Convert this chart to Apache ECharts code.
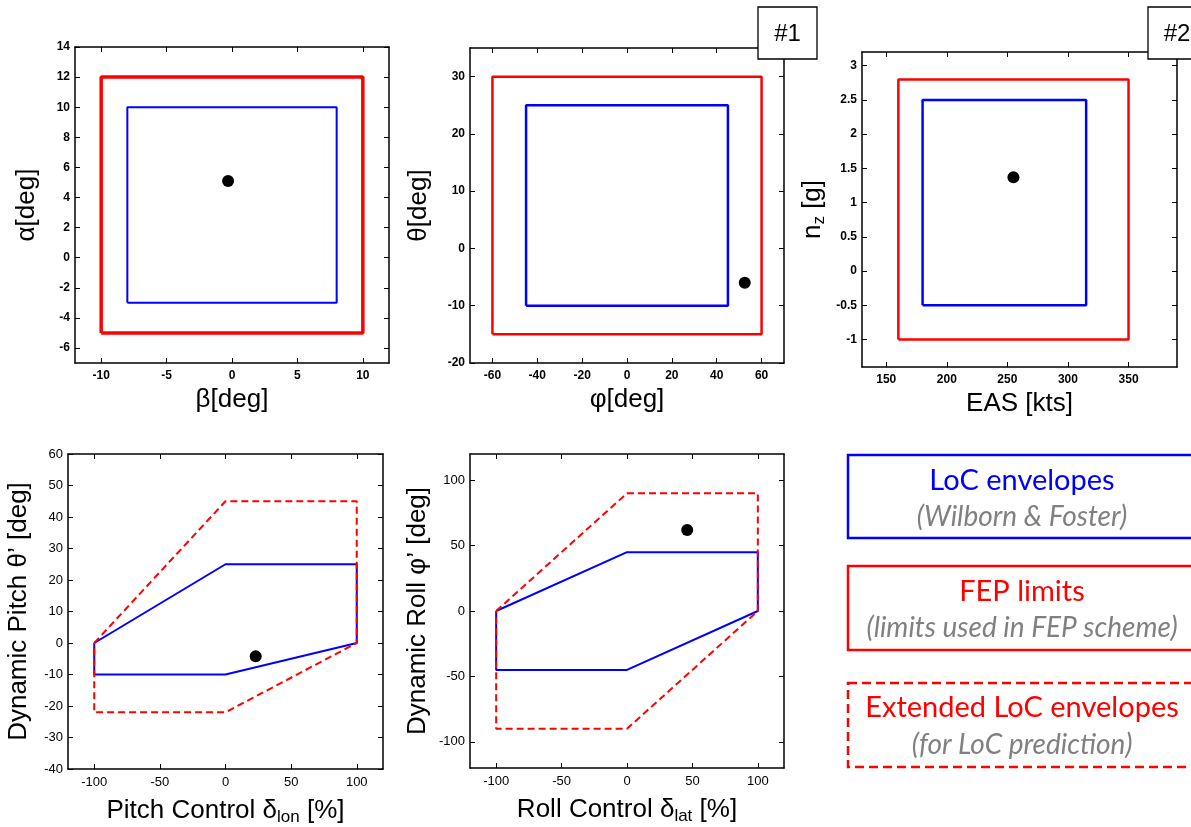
<!DOCTYPE html>
<html><head><meta charset="utf-8">
<script src="https://cdn.jsdelivr.net/npm/echarts@6/dist/echarts.min.js"></script>
<style>html,body{margin:0;padding:0;background:#fff}#c{width:1191px;height:827px}</style>
</head><body><div id="c"></div><script>
// ---- Plot 1: beta / alpha ----
const p1FepBeta  = [-10, 10, 10, -10, -10];
const p1FepAlpha = [-5, -5, 12, 12, -5];
const p1LocBeta  = [-8, 8, 8, -8, -8];
const p1LocAlpha = [-3, -3, 10, 10, -3];
const p1Point    = [-0.3, 5.1];
const p1XTicks = [-10, -5, 0, 5, 10];
const p1YTicks = [-6, -4, -2, 0, 2, 4, 6, 8, 10, 12, 14];
// ---- Plot 2: phi / theta ----
const p2FepPhi   = [-60, 60, 60, -60, -60];
const p2FepTheta = [-15, -15, 30, 30, -15];
const p2LocPhi   = [-45, 45, 45, -45, -45];
const p2LocTheta = [-10, -10, 25, 25, -10];
const p2Point    = [52.5, -6];
const p2XTicks = [-60, -40, -20, 0, 20, 40, 60];
const p2YTicks = [-20, -10, 0, 10, 20, 30];
// ---- Plot 3: EAS / nz ----
const p3FepEas = [160, 350, 350, 160, 160];
const p3FepNz  = [-1, -1, 2.8, 2.8, -1];
const p3LocEas = [180, 315, 315, 180, 180];
const p3LocNz  = [-0.5, -0.5, 2.5, 2.5, -0.5];
const p3Point  = [255, 1.37];
const p3XTicks = [150, 200, 250, 300, 350];
const p3YTicks = [-1, -0.5, 0, 0.5, 1, 1.5, 2, 2.5, 3];
// ---- Plot 4: pitch control / dynamic pitch ----
const p4LocX = [-100, 0, 100, 100, 0, -100, -100];
const p4LocY = [0, 25, 25, 0, -10, -10, 0];
const p4ExtX = [-100, 0, 100, 100, 0, -100, -100];
const p4ExtY = [0, 45, 45, 0, -22, -22, 0];
const p4Point = [23, -4.2];
const p4XTicks = [-100, -50, 0, 50, 100];
const p4YTicks = [-40, -30, -20, -10, 0, 10, 20, 30, 40, 50, 60];
// ---- Plot 5: roll control / dynamic roll ----
const p5LocX = [-100, 0, 100, 100, 0, -100, -100];
const p5LocY = [0, 45, 45, 0, -45, -45, 0];
const p5ExtX = [-100, 0, 100, 100, 0, -100, -100];
const p5ExtY = [0, 90, 90, 0, -90, -90, 0];
const p5Point = [46, 62];
const p5XTicks = [-100, -50, 0, 50, 100];
const p5YTicks = [-100, -50, 0, 50, 100];

const BLUE = '#0000ff', RED = '#ff0000';
const zip = (a, b) => a.map((v, i) => [v, b[i]]);

const grids = [
  {left: 75,  top: 47,  width: 314, height: 316},
  {left: 470, top: 48,  width: 314, height: 315},
  {left: 862, top: 52,  width: 315, height: 315},
  {left: 68,  top: 454, width: 315, height: 315},
  {left: 470, top: 454, width: 314, height: 314}
];
const axisCfg = [
  {x: [-12, 12, p1XTicks], y: [-7, 14, p1YTicks], bold: true, xn: 'β[deg]', yn: 'α[deg]', xg: 24, yg: 35},
  {x: [-70, 70, p2XTicks], y: [-20, 35, p2YTicks], bold: true, xn: 'φ[deg]', yn: 'θ[deg]', xg: 24, yg: 38},
  {x: [130, 390, p3XTicks], y: [-1.4, 3.2, p3YTicks], bold: true, xn: 'EAS [kts]', yn: 'n{s|z} [g]', xg: 24, yg: 34},
  {x: [-120, 120, p4XTicks], y: [-40, 60, p4YTicks], bold: false, xn: 'Pitch Control δ{s|lon} [%]', yn: 'Dynamic Pitch θ’ [deg]', xg: 26, yg: 36},
  {x: [-120, 120, p5XTicks], y: [-120, 120, p5YTicks], bold: false, xn: 'Roll Control δ{s|lat} [%]', yn: 'Dynamic Roll φ’ [deg]', xg: 26, yg: 39}
];
const FONT = 'Arial, "Liberation Sans", sans-serif';
const nameStyle = {fontFamily: FONT, fontSize: 26, color: '#000',
  rich: {s: {fontFamily: FONT, fontSize: 17, color: '#000', padding: [14, 0, 0, 0]}}};

const xAxes = [], yAxes = [];
axisCfg.forEach((c, i) => {
  const lbl = {fontFamily: FONT, fontSize: c.bold ? 12 : 13, fontWeight: c.bold ? 'bold' : 'normal', color: '#000'};
  const line = {show: true, onZero: false, lineStyle: {color: '#000', width: 1.5}};
  const tick = (vals) => ({show: true, inside: true, length: 5, customValues: vals, lineStyle: {color: '#000', width: 1}});
  xAxes.push({type: 'value', gridIndex: i, position: 'bottom', min: c.x[0], max: c.x[1],
    axisLine: line, axisTick: tick(c.x[2]), splitLine: {show: false},
    axisLabel: Object.assign({customValues: c.x[2], margin: 7}, lbl),
    name: c.xn, nameLocation: 'middle', nameGap: c.xg, nameTextStyle: nameStyle});
  xAxes.push({type: 'value', gridIndex: i, position: 'top', min: c.x[0], max: c.x[1],
    axisLine: line, axisTick: tick(c.x[2]), splitLine: {show: false}, axisLabel: {show: false}});
  yAxes.push({type: 'value', gridIndex: i, position: 'left', min: c.y[0], max: c.y[1],
    axisLine: line, axisTick: tick(c.y[2]), splitLine: {show: false},
    axisLabel: Object.assign({customValues: c.y[2], margin: 5}, lbl),
    name: c.yn, nameLocation: 'middle', nameGap: c.yg, nameRotate: 90, nameTextStyle: nameStyle});
  yAxes.push({type: 'value', gridIndex: i, position: 'right', min: c.y[0], max: c.y[1],
    axisLine: line, axisTick: tick(c.y[2]), splitLine: {show: false}, axisLabel: {show: false}});
});

function lineS(i, data, color, width, dash) {
  return {type: 'line', xAxisIndex: 2 * i, yAxisIndex: 2 * i, data: data, symbol: 'none',
    silent: true, animation: false, lineStyle: {color: color, width: width, type: dash || 'solid'}};
}
function pointS(i, p) {
  return {type: 'scatter', xAxisIndex: 2 * i, yAxisIndex: 2 * i, data: [p], symbolSize: 12,
    itemStyle: {color: '#000', opacity: 1}, animation: false, silent: true};
}
const series = [
  lineS(0, zip(p1FepBeta, p1FepAlpha), RED, 3.5),
  lineS(0, zip(p1LocBeta, p1LocAlpha), BLUE, 2),
  pointS(0, p1Point),
  lineS(1, zip(p2FepPhi, p2FepTheta), RED, 2.5),
  lineS(1, zip(p2LocPhi, p2LocTheta), BLUE, 2.5),
  pointS(1, p2Point),
  lineS(2, zip(p3FepEas, p3FepNz), RED, 2.5),
  lineS(2, zip(p3LocEas, p3LocNz), BLUE, 2.5),
  pointS(2, p3Point),
  lineS(3, zip(p4LocX, p4LocY), BLUE, 2),
  lineS(3, zip(p4ExtX, p4ExtY), RED, 2, [7, 4]),
  pointS(3, p4Point),
  lineS(4, zip(p5LocX, p5LocY), BLUE, 2),
  lineS(4, zip(p5ExtX, p5ExtY), RED, 2, [7, 4]),
  pointS(4, p5Point)
];

const LF = 'Lato, "Open Sans", sans-serif';
function txt(x, y, t, color, italic, size) {
  return {type: 'text', x: x, y: y, z: 100, silent: true,
    style: {text: t, fill: color, font: (italic ? 'italic ' : '') + size + 'px ' + LF, align: 'center', verticalAlign: 'middle'}};
}
const graphic = [
  {type: 'rect', z: 100, shape: {x: 758, y: 7, width: 59, height: 52}, style: {fill: '#fff', stroke: '#000', lineWidth: 1.3}},
  {type: 'text', z: 101, x: 787.5, y: 34, style: {text: '#1', fill: '#000', font: '24px ' + FONT, align: 'center', verticalAlign: 'middle'}},
  {type: 'rect', z: 100, shape: {x: 1148, y: 7, width: 80, height: 52}, style: {fill: '#fff', stroke: '#000', lineWidth: 1.3}},
  {type: 'text', z: 101, x: 1177, y: 34, style: {text: '#2', fill: '#000', font: '24px ' + FONT, align: 'center', verticalAlign: 'middle'}},
  {type: 'rect', z: 100, shape: {x: 848, y: 455, width: 400, height: 83}, style: {fill: 'none', stroke: BLUE, lineWidth: 2.5}},
  {type: 'rect', z: 100, shape: {x: 848, y: 566, width: 400, height: 84}, style: {fill: 'none', stroke: RED, lineWidth: 2.5}},
  {type: 'rect', z: 100, shape: {x: 848, y: 683, width: 400, height: 84}, style: {fill: 'none', stroke: RED, lineWidth: 2.5, lineDash: [9, 5]}},
  txt(1022, 481, 'LoC envelopes', BLUE, false, 29),
  txt(1022, 517, '(Wilborn & Foster)', '#808080', true, 28),
  txt(1022, 592, 'FEP limits', RED, false, 29),
  txt(1022, 628, '(limits used in FEP scheme)', '#808080', true, 28),
  txt(1022, 708, 'Extended LoC envelopes', RED, false, 29),
  txt(1022, 745, '(for LoC prediction)', '#808080', true, 28)
];

const chart = echarts.init(document.getElementById('c'), null, {renderer: 'canvas'});
chart.setOption({
  backgroundColor: '#fff',
  animation: false,
  grid: grids,
  xAxis: xAxes,
  yAxis: yAxes,
  series: series,
  graphic: graphic
});
</script></body></html>
